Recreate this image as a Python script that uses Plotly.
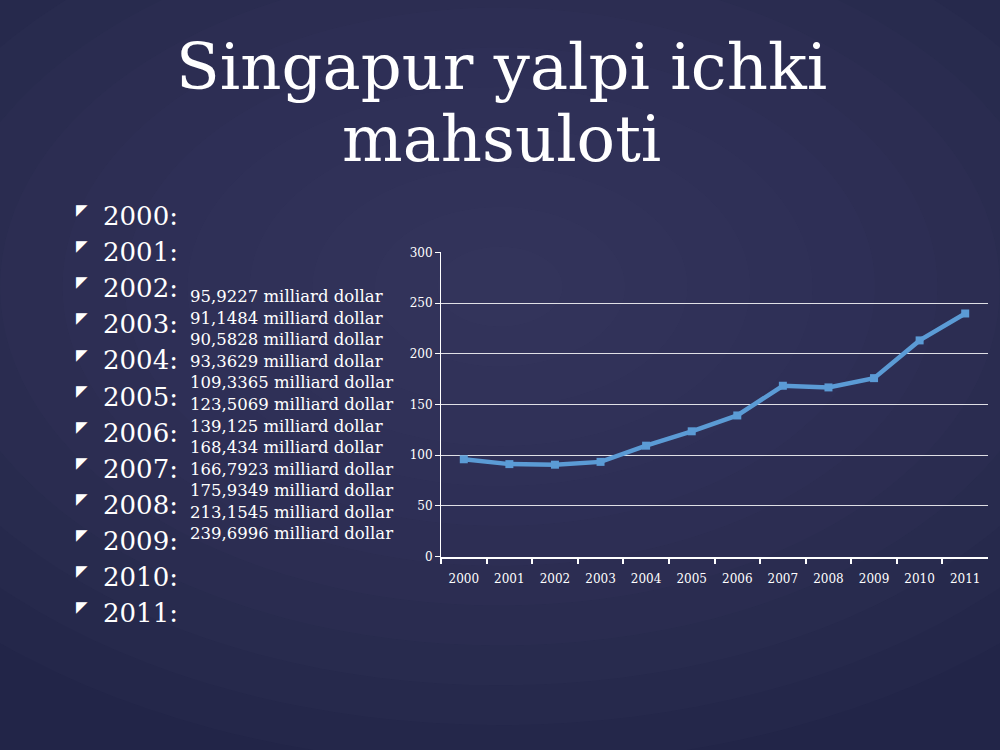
import plotly.graph_objects as go

# GDP values (billion dollars)
years = ["2000", "2001", "2002", "2003", "2004", "2005",
         "2006", "2007", "2008", "2009", "2010", "2011"]
gdp = [95.9227, 91.1484, 90.5828, 93.3629, 109.3365, 123.5069,
       139.125, 168.434, 166.7923, 175.9349, 213.1545, 239.6996]
gdp_labels = ["95,9227", "91,1484", "90,5828", "93,3629", "109,3365", "123,5069",
              "139,125", "168,434", "166,7923", "175,9349", "213,1545", "239,6996"]
y_ticks = [0, 50, 100, 150, 200, 250, 300]

W, H = 1000, 750
SERIF = "DejaVu Serif"


def px(x):
    return x / W


def py(y):
    return 1 - y / H


fig = go.Figure()

fig.add_trace(go.Scatter(
    x=years, y=gdp,
    mode="lines+markers",
    line=dict(color="#5b9bd5", width=4.5),
    marker=dict(symbol="square", size=8, color="#5b9bd5"),
    hoverinfo="x+y",
    showlegend=False,
))

annotations = []

# title, two lines
annotations.append(dict(text="Singapur yalpi ichki", x=px(501), y=py(61),
                        font=dict(family=SERIF, size=64, color="white")))
annotations.append(dict(text="mahsuloti", x=px(501), y=py(135),
                        font=dict(family=SERIF, size=64, color="white")))

# bullet list of years
for i, yr in enumerate(years):
    yc = 213 + i * 36.8
    annotations.append(dict(text="◤", x=px(82), y=py(yc - 6),
                            font=dict(family="DejaVu Sans", size=15, color="white")))
    annotations.append(dict(text=yr + ":", x=px(101), y=py(yc), xanchor="left",
                            font=dict(family=SERIF, size=26, color="white")))

# value column
for i, lab in enumerate(gdp_labels):
    yc = 295 + i * 22
    annotations.append(dict(text=lab + " milliard dollar", x=px(188), y=py(yc),
                            xanchor="left",
                            font=dict(family=SERIF, size=16.5, color="white")))

for a in annotations:
    a.setdefault("xanchor", "center")
    a["yanchor"] = "middle"
    a["xref"] = "paper"
    a["yref"] = "paper"
    a["showarrow"] = False

# soft lighter glow in the background (many faint layers for a smooth falloff)
shapes = []
for k in range(12):
    r = 1 - k / 12
    shapes.append(dict(type="circle", xref="paper", yref="paper",
                       x0=0.5 - 0.75 * r, x1=0.5 + 0.75 * r,
                       y0=0.62 - 0.65 * r, y1=0.62 + 0.65 * r,
                       fillcolor="rgba(110,115,160,0.022)", line=dict(width=0),
                       layer="below"))

fig.update_layout(
    width=W, height=H,
    margin=dict(l=0, r=0, t=0, b=0),
    paper_bgcolor="#222548",
    plot_bgcolor="rgba(0,0,0,0)",
    annotations=annotations,
    shapes=shapes,
    xaxis=dict(
        domain=[px(441), px(988)],
        type="category",
        range=[-0.5, 11.5],
        tickson="boundaries",
        ticks="outside", ticklen=6, tickcolor="white", tickwidth=1.5,
        ticklabelstandoff=10,
        showline=True, linecolor="white", linewidth=1.5,
        showgrid=False, zeroline=False,
        tickfont=dict(family=SERIF, size=12, color="white"),
        fixedrange=True,
    ),
    yaxis=dict(
        domain=[py(560), py(250)],
        range=[0, 300],
        tickvals=y_ticks,
        ticks="outside", ticklen=5, tickcolor="white",
        showline=True, linecolor="white", linewidth=1,
        showgrid=True, gridcolor="rgba(255,255,255,0.85)", gridwidth=1.2,
        zeroline=False,
        tickfont=dict(family=SERIF, size=12, color="white"),
        fixedrange=True,
    ),
    hovermode="closest",
)

fig.write_html("out.html", config={"displayModeBar": False},
               post_script="document.body.style.margin='0';")
